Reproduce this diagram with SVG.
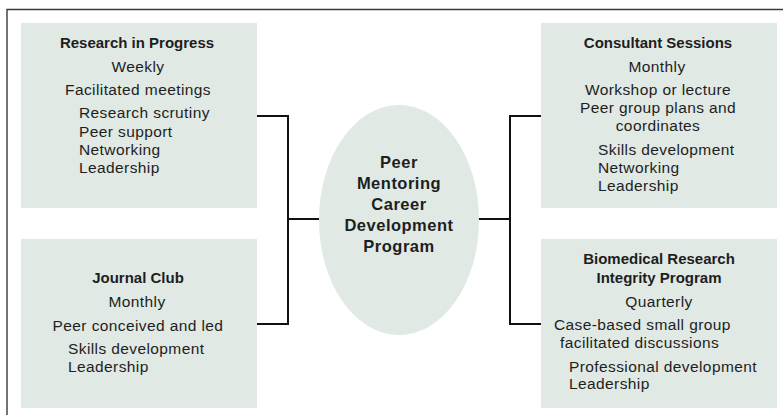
<svg xmlns="http://www.w3.org/2000/svg" width="783" height="415" viewBox="0 0 783 415">
  <style>
    .box { fill: #e0e9e4; }
    .hub { fill: #e0e9e4; }
    .frame { fill: none; stroke: #3a3a3a; stroke-width: 1.4; }
    .link { fill: none; stroke: #111; stroke-width: 2; }
    text { font-family: "Liberation Sans", Arial, sans-serif; fill: #1e1e1e; }
    .title { font-size: 15px; font-weight: bold; text-anchor: middle; }
    .mid { font-size: 15.5px; letter-spacing: 0.4px; text-anchor: middle; }
    .item { font-size: 15.5px; letter-spacing: 0.4px; }
    .hubtext { font-size: 16.5px; font-weight: bold; letter-spacing: 0.5px; text-anchor: middle; }
  </style>

  <!-- outer frame (top and left edges) -->
  <path class="frame" d="M7,415 V9.5 H783"/>

  <!-- connectors -->
  <g id="connectors">
    <path class="link" d="M257,116 H288 V324 H257"/>
    <path class="link" d="M288,219 H320"/>
    <path class="link" d="M541,116 H510 V324 H541"/>
    <path class="link" d="M478,219 H510"/>
  </g>

  <g id="hub">
    <ellipse class="hub" cx="399" cy="220" rx="80" ry="115"/>
    <text class="hubtext" x="399" y="168">Peer</text>
    <text class="hubtext" x="399" y="189">Mentoring</text>
    <text class="hubtext" x="399" y="210">Career</text>
    <text class="hubtext" x="399" y="231">Development</text>
    <text class="hubtext" x="399" y="252">Program</text>
  </g>

  <g id="research-in-progress">
    <rect class="box" x="21" y="23" width="236" height="185"/>
    <text class="title" x="137" y="48">Research in Progress</text>
    <text class="mid" x="138" y="72">Weekly</text>
    <text class="mid" x="138" y="95">Facilitated meetings</text>
    <text class="item" x="79" y="118">Research scrutiny</text>
    <text class="item" x="79" y="137">Peer support</text>
    <text class="item" x="79" y="155">Networking</text>
    <text class="item" x="79" y="173">Leadership</text>
  </g>

  <g id="journal-club">
    <rect class="box" x="21" y="239" width="236" height="169"/>
    <text class="title" x="138" y="283">Journal Club</text>
    <text class="mid" x="137" y="307">Monthly</text>
    <text class="mid" x="138" y="331">Peer conceived and led</text>
    <text class="item" x="68" y="354">Skills development</text>
    <text class="item" x="68" y="372">Leadership</text>
  </g>

  <g id="consultant-sessions">
    <rect class="box" x="541" y="23" width="236" height="185"/>
    <text class="title" x="658" y="48">Consultant Sessions</text>
    <text class="mid" x="657" y="72">Monthly</text>
    <text class="mid" x="658" y="95">Workshop or lecture</text>
    <text class="mid" x="658" y="113">Peer group plans and</text>
    <text class="mid" x="658" y="131">coordinates</text>
    <text class="item" x="598" y="155">Skills development</text>
    <text class="item" x="598" y="173">Networking</text>
    <text class="item" x="598" y="191">Leadership</text>
  </g>

  <g id="research-integrity">
    <rect class="box" x="541" y="239" width="236" height="169"/>
    <text class="title" x="659" y="264">Biomedical Research</text>
    <text class="title" x="659" y="283">Integrity Program</text>
    <text class="mid" x="659" y="307">Quarterly</text>
    <text class="item" x="554" y="330">Case-based small group</text>
    <text class="item" x="560" y="348">facilitated discussions</text>
    <text class="item" x="569" y="372">Professional development</text>
    <text class="item" x="569" y="389">Leadership</text>
  </g>
</svg>
